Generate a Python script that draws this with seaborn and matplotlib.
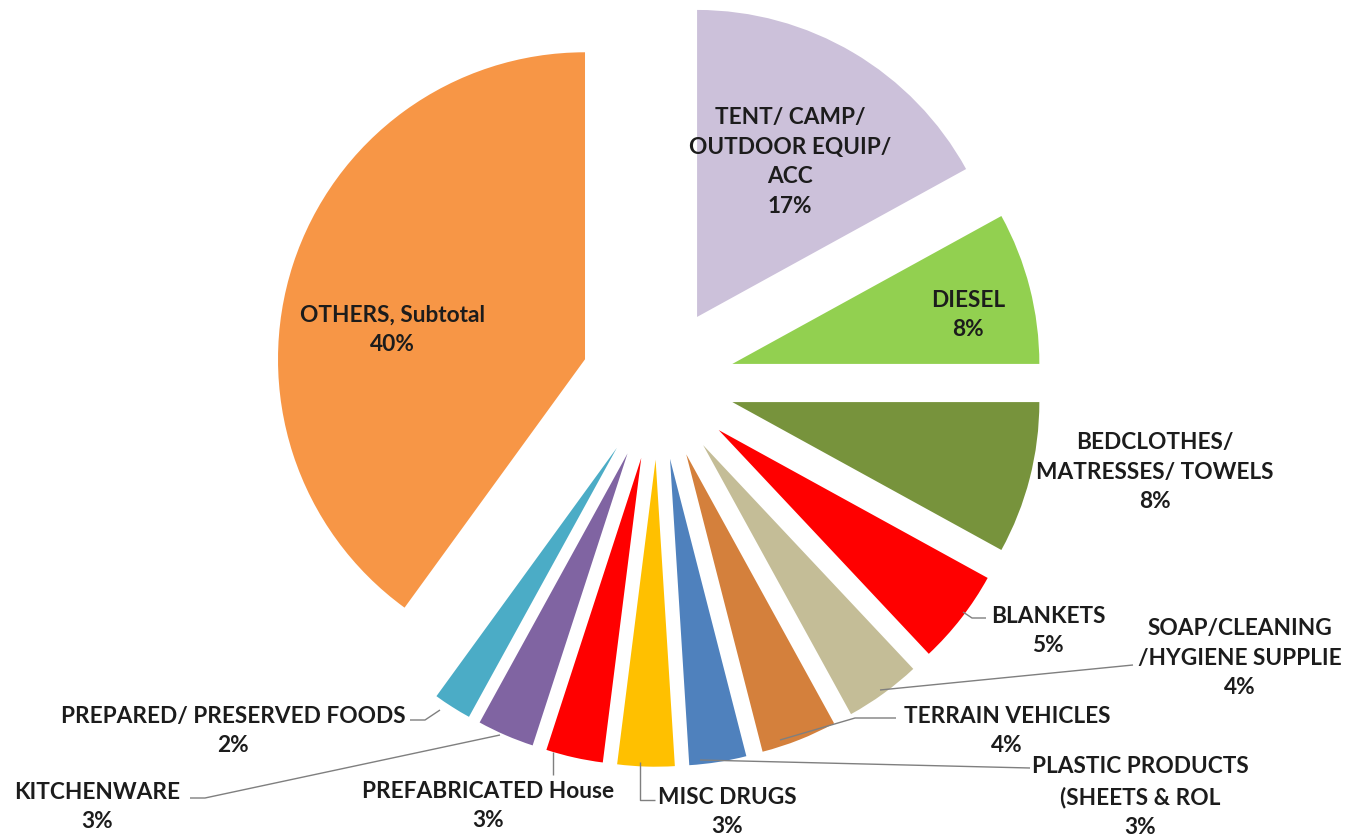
import matplotlib
matplotlib.use("Agg")
import matplotlib.pyplot as plt
import seaborn as sns

categories = [
    "TENT/ CAMP/\nOUTDOOR EQUIP/\nACC",
    "DIESEL",
    "BEDCLOTHES/\nMATRESSES/ TOWELS",
    "BLANKETS",
    "SOAP/CLEANING\n/HYGIENE SUPPLIE",
    "TERRAIN VEHICLES",
    "PLASTIC PRODUCTS\n(SHEETS & ROL",
    "MISC DRUGS",
    "PREFABRICATED House",
    "KITCHENWARE",
    "PREPARED/ PRESERVED FOODS",
    "OTHERS, Subtotal",
]
shares = [17, 8, 8, 5, 4, 4, 3, 3, 3, 3, 2, 40]
colors = ["#CCC1DA", "#92D050", "#77933C", "#FF0000", "#C4BD97", "#D4803C",
          "#4F81BD", "#FFC000", "#FF0000", "#8064A2", "#4BACC6", "#F79646"]

sns.set_theme(style="white")
plt.rcParams["font.family"] = ["Lato", "DejaVu Sans"]

W, H = 1354, 839
CX, CY, R = 658, 383, 307

fig = plt.figure(figsize=(W / 100, H / 100), dpi=100)
ax = fig.add_axes([0, 0, 1, 1])
ax.pie(shares, colors=colors, startangle=90, counterclock=False,
       explode=[0.25] * len(shares), radius=1.0,
       wedgeprops=dict(linewidth=0))
ax.set_xlim(-CX / R, (W - CX) / R)
ax.set_ylim(-(H - CY) / R, CY / R)
ax.set_aspect("equal", adjustable="datalim")
ax.axis("off")


def P(x, y):
    return ((x - CX) / R, (CY - y) / R)


txt_color = "#1c1c1c"
fs = 16.3
# label positions (pixel centers) and leader lines (pixel points)
label_pos = [
    (790, 162), (968, 315), (1155, 472), (1048, 631), (1240, 658),
    (1007, 731), (1140, 797), (727, 812), (488, 806), (97, 807),
    (233, 731), (392, 330),
]
leaders = [
    None, None, None,
    [(963, 612), (972, 618), (986, 618)],
    [(880, 690), (1133, 665)],
    [(780, 740), (855, 718), (896, 718)],
    [(700, 760), (1030, 768)],
    [(640, 762), (640, 800), (655, 800)],
    [(553, 752), (553, 775)],
    [(500, 735), (205, 798), (190, 798)],
    [(440, 710), (425, 720), (410, 720)],
    None,
]

for cat, val, pos, ld in zip(categories, shares, label_pos, leaders):
    x, y = P(*pos)
    ax.text(x, y, f"{cat}\n{val}%", ha="center", va="center", fontsize=fs,
            fontweight="bold", color=txt_color, linespacing=1.5)
    if ld:
        pts = [P(*p) for p in ld]
        ax.plot([p[0] for p in pts], [p[1] for p in pts], color="#7f7f7f",
                lw=1.0, solid_capstyle="butt")

fig.savefig("out.png", dpi=100)
